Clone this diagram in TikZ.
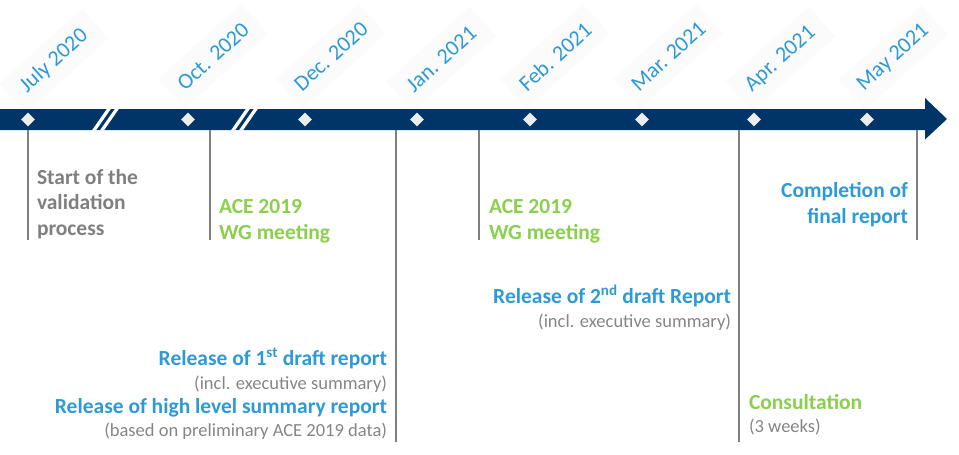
\documentclass[tikz,border=0pt]{standalone}
\usepackage{fontspec}
\setmainfont{Carlito}
\usetikzlibrary{shapes.geometric,backgrounds}
\definecolor{navy}{HTML}{023567}
\definecolor{evblue}{HTML}{2E9AD5}
\definecolor{evgreen}{HTML}{8ACF4E}
\definecolor{evgray}{HTML}{7F7F7F}
\definecolor{notegray}{HTML}{858585}
\definecolor{tick}{HTML}{EDEDED}
\definecolor{labelbg}{HTML}{FBFBFB}
\begin{document}
\begin{tikzpicture}[x=1pt,y=-1pt,
  month/.style={anchor=base west,rotate=42,text=evblue,font=\fontsize{22}{22}\selectfont,
    inner sep=0pt,outer sep=0pt},
  monthbg/.style={fill=labelbg,rotate=42,minimum width=112pt,minimum height=40pt,inner sep=0pt},
  tickmark/.style={diamond,fill=tick,minimum size=14pt,inner sep=0pt},
  stem/.style={draw=evgray,line width=2.4pt},
  evtext/.style={inner sep=0pt,outer sep=0pt,font=\fontsize{21.5}{25.5}\selectfont\bfseries},
  note/.style={inner sep=0pt,outer sep=0pt,font=\fontsize{18.5}{22}\selectfont,text=notegray},
  brk/.style={fill=white,draw=none}]
\useasboundingbox (0,0) rectangle (959,455);

% timeline band and arrow head
\fill[navy] (0,109) -- (925,109) -- (925,98) -- (947,119) -- (925,139.5) -- (925,130) -- (0,130) -- cycle;

% break marks on the band
\foreach \b in {92,231}{
  \fill[brk] (\b,130.3) -- (\b+15,108.7) -- (\b+19,108.7) -- (\b+4,130.3) -- cycle;
  \fill[brk] (\b+8,130.3) -- (\b+23,108.7) -- (\b+27,108.7) -- (\b+12,130.3) -- cycle;
}

% month markers
\node[tickmark] (m1) at (28,119.5) {};
\node[tickmark] (m2) at (188,119.5) {};
\node[tickmark] (m3) at (305,119.5) {};
\node[tickmark] (m4) at (417,119.5) {};
\node[tickmark] (m5) at (530,119.5) {};
\node[tickmark] (m6) at (642,119.5) {};
\node[tickmark] (m7) at (754,119.5) {};
\node[tickmark] (m8) at (867,119.5) {};

% month labels
\node[month] (l1) at (27,93) {July 2020};
\node[month] (l2) at (185,91) {Oct. 2020};
\node[month] (l3) at (302,92) {Dec. 2020};
\node[month] (l4) at (414,93) {Jan. 2021};
\node[month] (l5) at (527,92) {Feb. 2021};
\node[month] (l6) at (639,92) {Mar. 2021};
\node[month] (l7) at (752,92) {Apr. 2021};
\node[month] (l8) at (864,91) {May 2021};

% faint backing panels behind the month labels
\begin{scope}[on background layer]
  \foreach \l in {l1,l2,l3,l4,l5,l6,l7,l8}
    \node[monthbg] at (\l.center) {};
\end{scope}

% event stems
\coordinate (s1t) at (28,130);  \coordinate (s1b) at (28,240);
\coordinate (s2t) at (210,130); \coordinate (s2b) at (210,240);
\coordinate (s3t) at (396,130); \coordinate (s3b) at (396,442);
\coordinate (s4t) at (479,130); \coordinate (s4b) at (479,240);
\coordinate (s5t) at (739,130); \coordinate (s5b) at (739,442);
\coordinate (s6t) at (917,130); \coordinate (s6b) at (917,240);
\foreach \s in {1,...,6} \draw[stem] (s\s t) -- (s\s b);

% events (multi-line nodes sit on the baseline of their last line)
\node[evtext,text=evgray,anchor=base west,align=left] (e1) at (37,235)
  {Start of the\\validation\\process};
\node[evtext,text=evgreen,anchor=base west,align=left] (e2) at (219,239)
  {ACE 2019\\WG meeting};
\node[evtext,text=evgreen,anchor=base west,align=left] (e4) at (489,239)
  {ACE 2019\\WG meeting};
\node[evtext,text=evblue,anchor=base east,align=right] (e6) at (908,223)
  {Completion of\\final report};

\node[evtext,text=evblue,anchor=base east] (e5a) at (731,303)
  {Release of 2\textsuperscript{nd} draft Report};
\node[note,anchor=base east] (e5b) at (731,327) {(incl. executive summary)};

\node[evtext,text=evblue,anchor=base east] (e3a) at (387,365)
  {Release of 1\textsuperscript{st} draft report};
\node[note,anchor=base east] (e3b) at (387,389) {(incl. executive summary)};
\node[evtext,text=evblue,anchor=base east] (e3c) at (387,413)
  {Release of high level summary report};
\node[note,anchor=base east] (e3d) at (387,436) {(based on preliminary ACE 2019 data)};

\node[evtext,text=evgreen,anchor=base west] (e7a) at (749,409) {Consultation};
\node[note,anchor=base west] (e7b) at (749,432) {(3 weeks)};
\end{tikzpicture}
\end{document}
